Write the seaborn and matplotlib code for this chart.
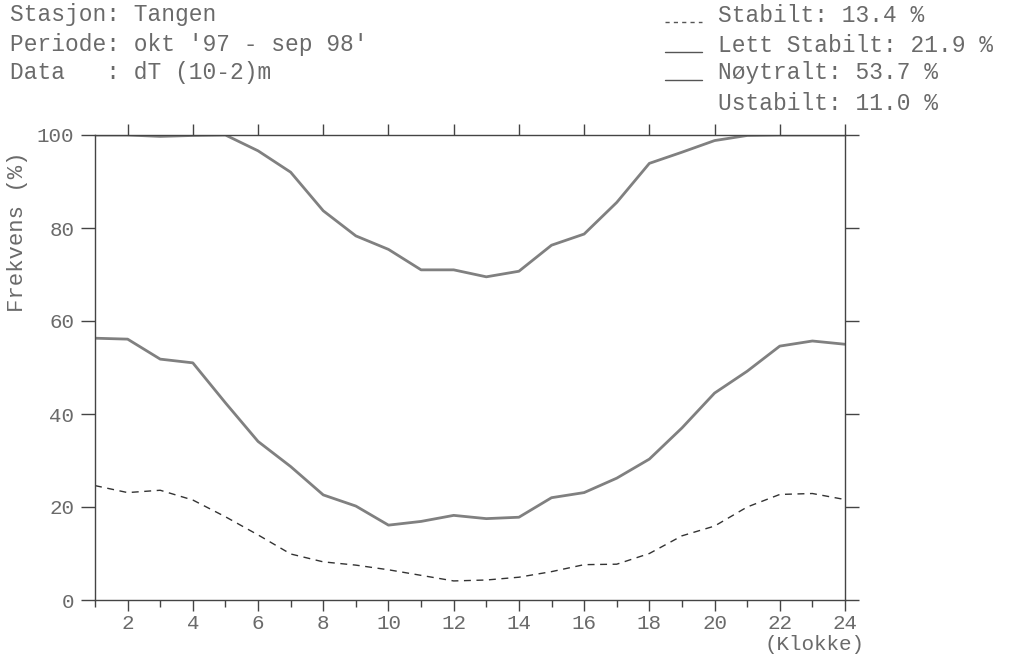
import numpy as np
import pandas as pd
import matplotlib
matplotlib.use("Agg")
import matplotlib.pyplot as plt
from matplotlib.lines import Line2D
from matplotlib.ticker import MultipleLocator
import seaborn as sns

# hour of day
hours = list(range(1, 25))
# cumulative frequency (%) - stabilt
stabilt = [24.6, 23.1, 23.6, 21.5, 17.9, 14.0, 9.9, 8.2, 7.5, 6.5, 5.3, 4.1,
           4.3, 4.9, 6.1, 7.6, 7.7, 10.0, 13.8, 15.9, 20.0, 22.7, 22.9, 21.6]
# stabilt + lett stabilt
lett_stabilt = [56.3, 56.1, 51.8, 51.0, 42.4, 34.1, 28.7, 22.6, 20.2, 16.1, 16.9, 18.2,
                17.5, 17.8, 22.0, 23.1, 26.2, 30.3, 37.0, 44.5, 49.2, 54.6, 55.7, 55.0]
# stabilt + lett stabilt + noytralt
noytralt = [100.0, 100.0, 99.7, 99.9, 100.0, 96.6, 92.0, 83.7, 78.3, 75.4, 71.0, 71.0,
            69.5, 70.7, 76.3, 78.7, 85.5, 93.9, 96.3, 98.8, 99.9, 100.0, 100.0, 100.0]

header_left = ["Stasjon: Tangen", "Periode: okt '97 - sep 98'", "Data   : dT (10-2)m"]
legend_txt = ["Stabilt: 13.4 %", "Lett Stabilt: 21.9 %", "Nøytralt: 53.7 %", "Ustabilt: 11.0 %"]

sns.set_style("ticks")
plt.rcParams['font.family'] = ['Liberation Mono', 'DejaVu Sans Mono']
txt_col = '#6a6a6a'
line_col = '#808080'

df = pd.DataFrame({'hour': hours, 'stabilt': stabilt,
                   'lett': lett_stabilt, 'noytralt': noytralt})

fig = plt.figure(figsize=(10.31, 6.59), dpi=100)
W, H = 1031, 659
ax = fig.add_axes([95 / W, 1 - 600 / H, 750 / W, 465 / H])

sns.lineplot(data=df, x='hour', y='stabilt', ax=ax, color='#333333', lw=1.0,
             linestyle=(0, (5, 4)))
sns.lineplot(data=df, x='hour', y='lett', ax=ax, color=line_col, lw=2.0)
sns.lineplot(data=df, x='hour', y='noytralt', ax=ax, color=line_col, lw=2.0)

ax.set_xlim(1, 24)
ax.set_ylim(0, 100)
ax.set_xlabel('')
ax.set_ylabel('')
ax.xaxis.set_major_locator(MultipleLocator(2))
ax.xaxis.set_minor_locator(MultipleLocator(1))
ax.yaxis.set_major_locator(MultipleLocator(20))
ax.tick_params(axis='both', which='both', direction='out', colors='#444444',
               labelcolor=txt_col, labelsize=15, width=1.0)
ax.tick_params(axis='x', which='major', length=8, top=True, pad=2)
ax.tick_params(axis='x', which='minor', length=5, top=False)
ax.tick_params(axis='y', which='major', length=10, right=True, pad=5)
for sp in ax.spines.values():
    sp.set_visible(True)
    sp.set_color('#444444')
    sp.set_linewidth(1.0)

fig.text(18 / W, 1 - 232 / H, 'Frekvens (%)', rotation=90, ha='center', va='center',
         fontsize=16, color=txt_col)
fig.text(814 / W, 1 - 645 / H, '(Klokke)', ha='center', va='center',
         fontsize=15, color=txt_col)

ys = [15, 45, 73, 103]
for t, y in zip(header_left, ys):
    fig.text(10 / W, 1 - y / H, t, ha='left', va='center', fontsize=16.5, color=txt_col)

styles = [(0, (3, 3)), '-', '-', None]
for t, y, st in zip(legend_txt, ys, styles):
    fig.text(718 / W, 1 - y / H, t, ha='left', va='center', fontsize=16.5, color=txt_col)
    if st is not None:
        fig.add_artist(Line2D([665 / W, 702 / W], [1 - (y + 7) / H] * 2,
                              transform=fig.transFigure, color='#555555', lw=1.0,
                              linestyle=st))

fig.savefig('out.png', dpi=100)
